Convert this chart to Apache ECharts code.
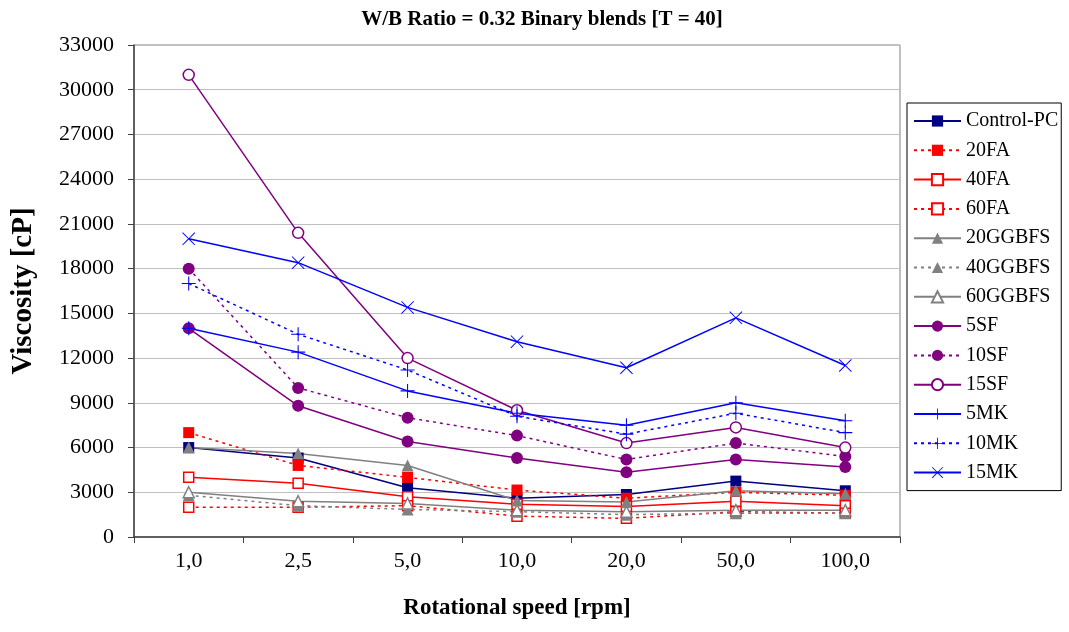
<!DOCTYPE html>
<html>
<head>
<meta charset="utf-8">
<script src="https://cdn.jsdelivr.net/npm/echarts@6/dist/echarts.min.js"></script>
<style>
  html, body { margin: 0; padding: 0; background: #fff; }
  #chart { width: 1069px; height: 632px; }
</style>
</head>
<body>
<div id="chart"></div>
<script>
// Rotational speed categories (rpm)
const speeds = ['1,0', '2,5', '5,0', '10,0', '20,0', '50,0', '100,0'];

// Viscosity [cP] per blend
const controlPC = [6000, 5300, 3300, 2600, 2850, 3750, 3100];
const fa20      = [7000, 4800, 4000, 3150, 2600, 3000, 2800];
const fa40      = [4000, 3600, 2700, 2200, 2050, 2400, 2100];
const fa60      = [2000, 2000, 2100, 1400, 1250, 1700, 1600];
const ggbfs20   = [6000, 5600, 4800, 2450, 2350, 3100, 2900];
const ggbfs40   = [2800, 2100, 1850, 1700, 1500, 1600, 1600];
const ggbfs60   = [3000, 2400, 2250, 1800, 1700, 1800, 1800];
const sf5       = [14000, 8800, 6400, 5300, 4350, 5200, 4700];
const sf10      = [18000, 10000, 8000, 6800, 5200, 6300, 5400];
const sf15      = [31000, 20400, 12000, 8500, 6300, 7350, 6000];
const mk5       = [14000, 12400, 9800, 8300, 7500, 9000, 7800];
const mk10      = [17000, 13600, 11200, 8100, 6900, 8300, 7000];
const mk15      = [20000, 18400, 15400, 13100, 11350, 14700, 11500];

// Y axis ticks
const yMin = 0, yMax = 33000, yStep = 3000;

const FONT = '"Liberation Serif", "Times New Roman", serif';
const NAVY = '#000080', RED = '#FF0000', GRAY = '#808080', PURPLE = '#800080', BLUE = '#0000FF';

const PLUS = 'path://M9.25,0H10.75V9.25H20V10.75H10.75V20H9.25V10.75H0V9.25H9.25Z';
const CROSS = 'path://M0,1.05L1.05,0L10,8.95L18.95,0L20,1.05L11.05,10L20,18.95L18.95,20L10,11.05L1.05,20L0,18.95L8.95,10Z';
const DOTS = [3, 4];

function line(name, data, color, dashed, symbol, size, empty) {
  return {
    name, data, type: 'line',
    symbol, symbolSize: size,
    showSymbol: true,
    lineStyle: { color, width: 1.5, type: dashed ? DOTS : 'solid' },
    itemStyle: empty
      ? { color: '#fff', borderColor: color, borderWidth: 1.5 }
      : { color, borderColor: color, borderWidth: 0 },
    emphasis: { disabled: true },
    animation: false
  };
}

const series = [
  line('Control-PC', controlPC, NAVY, false, 'rect', 11, false),
  line('20FA', fa20, RED, true, 'rect', 11, false),
  line('40FA', fa40, RED, false, 'rect', 10, true),
  line('60FA', fa60, RED, true, 'rect', 10, true),
  line('20GGBFS', ggbfs20, GRAY, false, 'triangle', 12, false),
  line('40GGBFS', ggbfs40, GRAY, true, 'triangle', 12, false),
  line('60GGBFS', ggbfs60, GRAY, false, 'triangle', 11, true),
  line('5SF', sf5, PURPLE, false, 'circle', 12, false),
  line('10SF', sf10, PURPLE, true, 'circle', 12, false),
  line('15SF', sf15, PURPLE, false, 'circle', 11, true),
  line('5MK', mk5, BLUE, false, PLUS, 14, false),
  line('10MK', mk10, BLUE, true, PLUS, 14, false),
  line('15MK', mk15, BLUE, false, CROSS, 13, false)
];

const chart = echarts.init(document.getElementById('chart'), null, { renderer: 'canvas' });
chart.setOption({
  backgroundColor: '#fff',
  animation: false,
  title: {
    text: 'W/B Ratio = 0.32 Binary blends [T = 40]',
    left: 537, textAlign: 'center', top: 4,
    textStyle: { fontFamily: FONT, fontSize: 21, fontWeight: 'bold', color: '#000' }
  },
  grid: {
    left: 134, right: 169, top: 45, bottom: 95,
    show: true, borderColor: GRAY, borderWidth: 1, backgroundColor: '#fff'
  },
  legend: {
    orient: 'vertical',
    left: 907, top: 103,
    padding: [8, 3, 8, 6],
    itemGap: 9.3,
    itemWidth: 47, itemHeight: 14,
    borderColor: '#000', borderWidth: 1,
    backgroundColor: '#fff',
    textStyle: { fontFamily: FONT, fontSize: 20, color: '#000', lineHeight: 20 },
    data: series.map(s => s.name)
  },
  xAxis: {
    type: 'category',
    data: speeds,
    boundaryGap: true,
    axisLine: { lineStyle: { color: '#404040', width: 1.5 } },
    axisTick: { show: true, length: 6, lineStyle: { color: '#404040' } },
    axisLabel: { fontFamily: FONT, fontSize: 22, color: '#000', margin: 13 },
    name: 'Rotational speed [rpm]',
    nameLocation: 'middle', nameGap: 60,
    nameTextStyle: { fontFamily: FONT, fontSize: 23, fontWeight: 'bold', color: '#000' }
  },
  yAxis: {
    type: 'value',
    min: yMin, max: yMax, interval: yStep,
    axisLine: { show: true, lineStyle: { color: '#404040', width: 1.5 } },
    axisTick: { show: true, length: 6, lineStyle: { color: '#404040' } },
    splitLine: { lineStyle: { color: '#C0C0C0', width: 1 } },
    axisLabel: { fontFamily: FONT, fontSize: 22, color: '#000', margin: 20, formatter: v => String(v) },
    name: 'Viscosity [cP]',
    nameLocation: 'middle', nameGap: 96,
    nameTextStyle: { fontFamily: FONT, fontSize: 29, fontWeight: 'bold', color: '#000' }
  },
  series
});
</script>
</body>
</html>
